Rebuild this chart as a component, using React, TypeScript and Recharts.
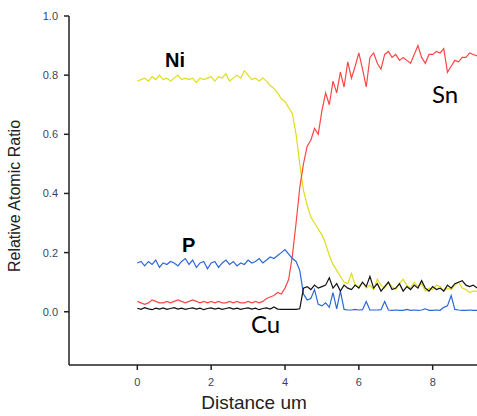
import { LineChart, Line, XAxis, YAxis } from "recharts";

// Line-scan EDS profile across the joint, sampled every 0.1 um
const ni = [
  0.78, 0.785, 0.79, 0.78, 0.795, 0.785, 0.8, 0.785, 0.79, 0.78,
  0.79, 0.8, 0.785, 0.79, 0.785, 0.79, 0.775, 0.79, 0.785, 0.79,
  0.795, 0.78, 0.795, 0.79, 0.805, 0.78, 0.79, 0.8, 0.79, 0.815,
  0.8, 0.785, 0.79, 0.78, 0.79, 0.78, 0.765, 0.755, 0.74, 0.72,
  0.71, 0.69, 0.67, 0.6, 0.5, 0.41, 0.36, 0.32, 0.3, 0.28,
  0.26, 0.23, 0.19, 0.16, 0.14, 0.12, 0.1, 0.095, 0.13, 0.09,
  0.085, 0.1, 0.08, 0.09, 0.075, 0.11, 0.09, 0.08, 0.1, 0.085,
  0.075, 0.095, 0.11, 0.09, 0.08, 0.1, 0.085, 0.095, 0.07, 0.08,
  0.075, 0.09, 0.085, 0.07, 0.08, 0.075, 0.09, 0.1, 0.08, 0.075,
  0.065, 0.07, 0.07,
];
const sn = [
  0.035, 0.03, 0.025, 0.03, 0.04, 0.035, 0.03, 0.03, 0.035, 0.03,
  0.035, 0.04, 0.035, 0.03, 0.035, 0.04, 0.035, 0.03, 0.035, 0.03,
  0.035, 0.03, 0.035, 0.03, 0.03, 0.035, 0.03, 0.035, 0.03, 0.03,
  0.035, 0.03, 0.035, 0.03, 0.035, 0.045, 0.05, 0.055, 0.065, 0.06,
  0.08, 0.11, 0.19, 0.3, 0.42, 0.5, 0.56, 0.58, 0.62, 0.6,
  0.68, 0.74, 0.7, 0.78, 0.74, 0.81, 0.76, 0.845, 0.79, 0.83,
  0.875, 0.82, 0.76, 0.86, 0.875, 0.84, 0.82, 0.87, 0.88, 0.86,
  0.87, 0.85, 0.86, 0.85, 0.84, 0.87, 0.9, 0.86, 0.84, 0.87,
  0.87, 0.88, 0.875, 0.89, 0.81, 0.83, 0.85, 0.845, 0.86, 0.86,
  0.875, 0.87, 0.865,
];
const p = [
  0.165, 0.17, 0.155, 0.17, 0.16, 0.175, 0.15, 0.165, 0.16, 0.17,
  0.165, 0.155, 0.17, 0.18, 0.16, 0.175, 0.15, 0.165, 0.17, 0.145,
  0.165, 0.17, 0.15, 0.165, 0.175, 0.16, 0.17, 0.155, 0.165, 0.16,
  0.175, 0.165, 0.17, 0.18, 0.165, 0.175, 0.185, 0.18, 0.19, 0.2,
  0.21, 0.195, 0.18, 0.17, 0.14, 0.06, 0.04, 0.045, 0.075, 0.025,
  0.02, 0.03, 0.015, 0.065, 0.01, 0.07, 0.008, 0.006, 0.006, 0.008,
  0.006, 0.007, 0.035, 0.006, 0.006, 0.006, 0.007, 0.035, 0.006, 0.005,
  0.006, 0.005, 0.005, 0.008, 0.005, 0.006, 0.005, 0.006, 0.01, 0.005,
  0.005, 0.006, 0.005, 0.015, 0.02, 0.055, 0.008, 0.006, 0.005, 0.005,
  0.006, 0.005, 0.005,
];
const cu = [
  0.012, 0.008, 0.014, 0.01, 0.007, 0.012, 0.009, 0.013, 0.008, 0.011,
  0.014, 0.009, 0.012, 0.008, 0.011, 0.013, 0.009, 0.012, 0.007, 0.011,
  0.013, 0.009, 0.012, 0.008, 0.011, 0.014, 0.009, 0.012, 0.008, 0.011,
  0.013, 0.009, 0.012, 0.007, 0.011, 0.013, 0.009, 0.016, 0.009, 0.008,
  0.008, 0.008, 0.008, 0.008, 0.01, 0.08, 0.085, 0.075, 0.09, 0.08,
  0.085, 0.09, 0.115, 0.08, 0.095, 0.07, 0.09, 0.08, 0.075, 0.09,
  0.08, 0.1, 0.085, 0.12, 0.08, 0.095, 0.07, 0.085, 0.1, 0.075,
  0.08, 0.095, 0.07, 0.085, 0.075, 0.09, 0.08, 0.105, 0.08, 0.07,
  0.085, 0.075, 0.08, 0.07, 0.09, 0.08, 0.095, 0.1, 0.105, 0.09,
  0.085, 0.09, 0.08,
];
const distance = ni.map((_, i) => i / 10);

const xTicks = [0, 2, 4, 6, 8];
const yTicks = [0, 0.2, 0.4, 0.6, 0.8, 1.0];

const data = distance.map((d, i) => ({ d, ni: ni[i], sn: sn[i], p: p[i], cu: cu[i] }));

const tickStyle = { fontSize: 11, fill: "#3f3f5c", fontFamily: "Liberation Sans, Arial, sans-serif" };
const axisStroke = { stroke: "#222", strokeWidth: 1.5 };

export default function App() {
  return (
    <div style={{ position: "absolute", left: 0, top: 0, background: "#fff" }}>
      <LineChart width={477} height={416} data={data} margin={{ top: 16, right: 0, bottom: 21, left: 0 }}>
        <XAxis
          dataKey="d"
          type="number"
          domain={[-1.85, 9.2]}
          ticks={xTicks}
          tick={tickStyle}
          tickSize={5}
          tickMargin={8}
          axisLine={axisStroke}
          tickLine={axisStroke}
          height={30}
        />
        <YAxis
          type="number"
          domain={[-0.18, 1.0]}
          ticks={yTicks}
          tickFormatter={(v: number) => v.toFixed(1)}
          tick={tickStyle}
          tickSize={5}
          tickMargin={6}
          axisLine={axisStroke}
          tickLine={axisStroke}
          width={69}
        />
        <Line type="linear" dataKey="ni" stroke="#e0dc1e" strokeWidth={1.2} dot={false} isAnimationActive={false} />
        <Line type="linear" dataKey="sn" stroke="#ff4646" strokeWidth={1.2} dot={false} isAnimationActive={false} />
        <Line type="linear" dataKey="p" stroke="#2a68d8" strokeWidth={1.2} dot={false} isAnimationActive={false} />
        <Line type="linear" dataKey="cu" stroke="#111" strokeWidth={1.2} dot={false} isAnimationActive={false} />
        <text x={165} y={67} fontSize={20} fontWeight="bold" fontFamily="Liberation Sans, Arial, sans-serif" fill="#000">Ni</text>
        <text x={182} y={252} fontSize={20} fontWeight="bold" fontFamily="Liberation Sans, Arial, sans-serif" fill="#000">P</text>
        <text x={432} y={103} fontSize={24} fontFamily="Lato, sans-serif" fill="#000">Sn</text>
        <text x={251} y={333} fontSize={24} fontFamily="Lato, sans-serif" fill="#000">Cu</text>
        <text
          x={20}
          y={196}
          transform="rotate(-90 20 196)"
          textAnchor="middle"
          fontSize={16}
          fontFamily="Liberation Sans, Arial, sans-serif"
          fill="#222"
        >
          Relative Atomic Ratio
        </text>
        <text x={254} y={409} textAnchor="middle" fontSize={19} fontFamily="Liberation Sans, Arial, sans-serif" fill="#222">
          Distance um
        </text>
      </LineChart>
    </div>
  );
}
